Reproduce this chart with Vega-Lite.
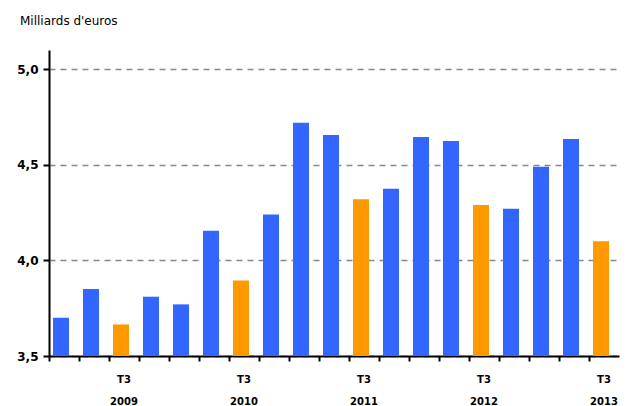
{
  "$schema": "https://vega.github.io/schema/vega-lite/v6.json",
  "width": 570,
  "height": 306,
  "autosize": {"type": "none"},
  "padding": {"left": 49, "top": 50, "right": 8, "bottom": 50},
  "background": "white",
  "title": {
    "text": "Milliards d'euros",
    "anchor": "start",
    "frame": "group",
    "dx": -29,
    "offset": 22,
    "font": "DejaVu Sans",
    "fontSize": 12,
    "fontWeight": "normal",
    "color": "#000000"
  },
  "data": {
    "values": [
      {"q": "2009-T1", "t": "T1", "v": 3.70},
      {"q": "2009-T2", "t": "T2", "v": 3.85},
      {"q": "2009-T3", "t": "T3", "v": 3.665},
      {"q": "2009-T4", "t": "T4", "v": 3.81},
      {"q": "2010-T1", "t": "T1", "v": 3.77},
      {"q": "2010-T2", "t": "T2", "v": 4.155},
      {"q": "2010-T3", "t": "T3", "v": 3.895},
      {"q": "2010-T4", "t": "T4", "v": 4.24},
      {"q": "2011-T1", "t": "T1", "v": 4.72},
      {"q": "2011-T2", "t": "T2", "v": 4.656},
      {"q": "2011-T3", "t": "T3", "v": 4.32},
      {"q": "2011-T4", "t": "T4", "v": 4.375},
      {"q": "2012-T1", "t": "T1", "v": 4.645},
      {"q": "2012-T2", "t": "T2", "v": 4.624},
      {"q": "2012-T3", "t": "T3", "v": 4.29},
      {"q": "2012-T4", "t": "T4", "v": 4.27},
      {"q": "2013-T1", "t": "T1", "v": 4.49},
      {"q": "2013-T2", "t": "T2", "v": 4.635},
      {"q": "2013-T3", "t": "T3", "v": 4.10}
    ]
  },
  "mark": {"type": "bar", "width": 16, "xOffset": -3},
  "encoding": {
    "x": {
      "field": "q",
      "type": "ordinal",
      "sort": null,
      "scale": {"paddingInner": 0, "paddingOuter": 0},
      "axis": {
        "title": null,
        "bandPosition": 0,
        "labelAngle": 0,
        "labelAlign": "center",
        "labelOverlap": false,
        "labelBound": false,
        "labelExpr": "indexof(datum.value, 'T3') > 0 ? ['T3', slice(datum.value, 0, 4)] : ''",
        "labelFont": "DejaVu Sans",
        "labelFontSize": 10,
        "labelFontWeight": "bold",
        "labelColor": "#000000",
        "labelLineHeight": 22,
        "labelPadding": 13,
        "labelBaseline": "top",
        "domainColor": "#000000",
        "domainWidth": 2,
        "tickColor": "#000000",
        "tickSize": 5,
        "tickWidth": 2,
        "grid": false
      }
    },
    "y": {
      "field": "v",
      "type": "quantitative",
      "scale": {"domain": [3.5, 5.1], "zero": false, "nice": false},
      "axis": {
        "title": null,
        "values": [3.5, 4.0, 4.5, 5.0],
        "format": ".1f",
        "labelExpr": "replace(datum.label, '.', ',')",
        "labelFont": "DejaVu Sans",
        "labelFontSize": 12,
        "labelFontWeight": "bold",
        "labelColor": "#000000",
        "labelPadding": 5,
        "domainColor": "#000000",
        "domainWidth": 2,
        "tickColor": "#000000",
        "tickSize": 6,
        "tickWidth": 2,
        "grid": true,
        "gridColor": "#888888",
        "gridDash": [6, 5],
        "gridWidth": 1.5
      }
    },
    "y2": {"datum": 3.5},
    "color": {
      "field": "t",
      "type": "nominal",
      "scale": {"domain": ["T1", "T2", "T3", "T4"], "range": ["#3366FF", "#3366FF", "#FF9900", "#3366FF"]},
      "legend": null
    }
  },
  "config": {"view": {"stroke": null}}
}
